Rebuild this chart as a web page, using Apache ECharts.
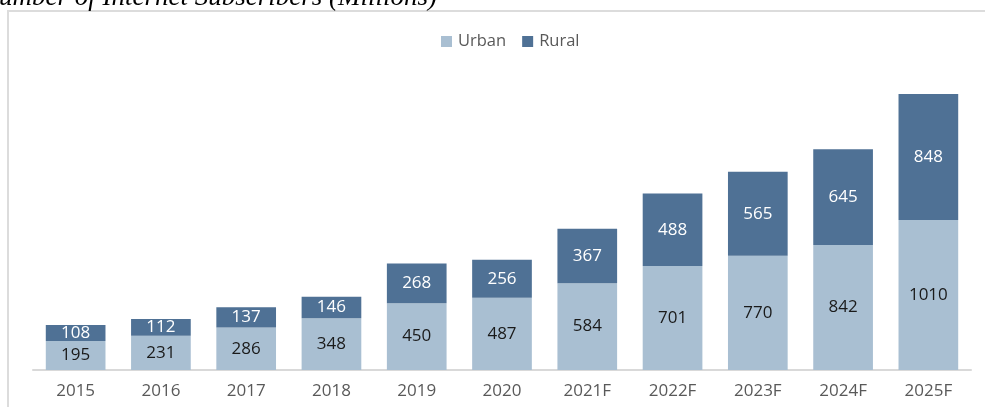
<!DOCTYPE html>
<html>
<head>
<meta charset="utf-8">
<script src="https://cdn.jsdelivr.net/npm/echarts@6/dist/echarts.min.js"></script>
<style>
  html, body { margin: 0; padding: 0; background: #fff; }
  #chart { width: 985px; height: 407px; }
</style>
</head>
<body>
<div id="chart"></div>
<script>
const years = ['2015', '2016', '2017', '2018', '2019', '2020', '2021F', '2022F', '2023F', '2024F', '2025F'];
const urban = [195, 231, 286, 348, 450, 487, 584, 701, 770, 842, 1010];
const rural = [108, 112, 137, 146, 268, 256, 367, 488, 565, 645, 848];

const chart = echarts.init(document.getElementById('chart'));

const option = {
    animation: false,
    textStyle: { fontFamily: 'Open Sans' },
    graphic: [
        {
            type: 'rect',
            shape: { x: 8, y: 11, width: 1000, height: 420 },
            style: { fill: 'none', stroke: '#dcdcdc', lineWidth: 2 },
            silent: true
        },
        {
            type: 'text',
            style: {
                x: 437,
                y: 11,
                text: 'Number of Internet Subscribers (Millions)',
                align: 'right',
                verticalAlign: 'bottom',
                font: 'italic 27px "Liberation Serif"',
                fill: '#000'
            },
            silent: true
        }
    ],
    legend: {
        left: 436,
        top: 28,
        itemWidth: 11,
        itemHeight: 11,
        itemGap: 16,
        icon: 'rect',
        textStyle: { fontSize: 16.5, color: '#595959', fontFamily: 'Open Sans', padding: [0, 0, 0, 1] },
        data: ['Urban', 'Rural']
    },
    grid: { left: 33, right: 14, top: 73, bottom: 37 },
    xAxis: {
        type: 'category',
        data: years,
        axisLine: { lineStyle: { color: '#d9d9d9', width: 2 } },
        axisTick: { show: false },
        axisLabel: { fontSize: 17, color: '#595959', margin: 13 }
    },
    yAxis: {
        type: 'value',
        min: 0,
        max: 2000,
        show: false,
        splitLine: { show: false }
    },
    series: [
        {
            name: 'Urban',
            type: 'bar',
            stack: 'total',
            data: urban,
            barCategoryGap: '30%',
            itemStyle: { color: '#a9bfd2' },
            label: { show: true, position: 'inside', fontSize: 17, color: '#1a1a1a' }
        },
        {
            name: 'Rural',
            type: 'bar',
            stack: 'total',
            data: rural,
            barCategoryGap: '30%',
            itemStyle: { color: '#4f7195' },
            label: { show: true, position: 'inside', fontSize: 17, color: '#ffffff' }
        }
    ]
};

chart.setOption(option);
</script>
</body>
</html>
